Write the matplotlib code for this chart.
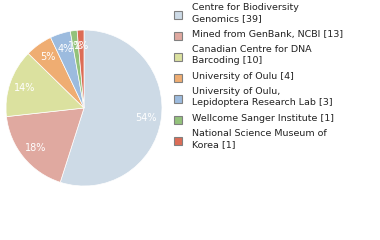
import matplotlib
matplotlib.use('Agg')
from matplotlib import pyplot as plt
from matplotlib.patches import Rectangle

# data
labels = ['Centre for Biodiversity\nGenomics [39]',
          'Mined from GenBank, NCBI [13]',
          'Canadian Centre for DNA\nBarcoding [10]',
          'University of Oulu [4]',
          'University of Oulu,\nLepidoptera Research Lab [3]',
          'Wellcome Sanger Institute [1]',
          'National Science Museum of\nKorea [1]']
counts = [39, 13, 10, 4, 3, 1, 1]
colors = ['#cddae6', '#e0a9a0', '#dbe19f', '#efad72', '#9cbbde', '#93c27b', '#dc6c56']

W, H = 380, 240
fig = plt.figure(figsize=(3.8, 2.4), dpi=100)
ax = fig.add_axes([6 / W, 54 / H, 156 / W, 156 / H])
wedges, texts, autotexts = ax.pie(
    counts, colors=colors, startangle=90, counterclock=False,
    autopct=lambda p: f'{int(p)}%', pctdistance=0.8,
    wedgeprops={'linewidth': 0.5, 'edgecolor': 'white'},
    textprops={'color': 'white', 'fontsize': 7})
ax.set_xlim(-1, 1)
ax.set_ylim(-1, 1)
ax.set_aspect('equal')

# legend, drawn by hand to match the spacing
y = 9
for lab, col in zip(labels, colors):
    n = lab.count('\n') + 1
    mid = y + (n - 1) * 6
    fig.patches.append(Rectangle((174 / W, 1 - (mid + 4) / H), 8 / W, 8 / H,
                                 transform=fig.transFigure, facecolor=col,
                                 edgecolor='#808080', linewidth=0.8))
    fig.text(192 / W, 1 - (y - 6) / H, lab, fontsize=6.8, va='top', color='#222222',
             linespacing=1.3)
    y += 12 * (n - 1) + 15

fig.savefig('out.png')
